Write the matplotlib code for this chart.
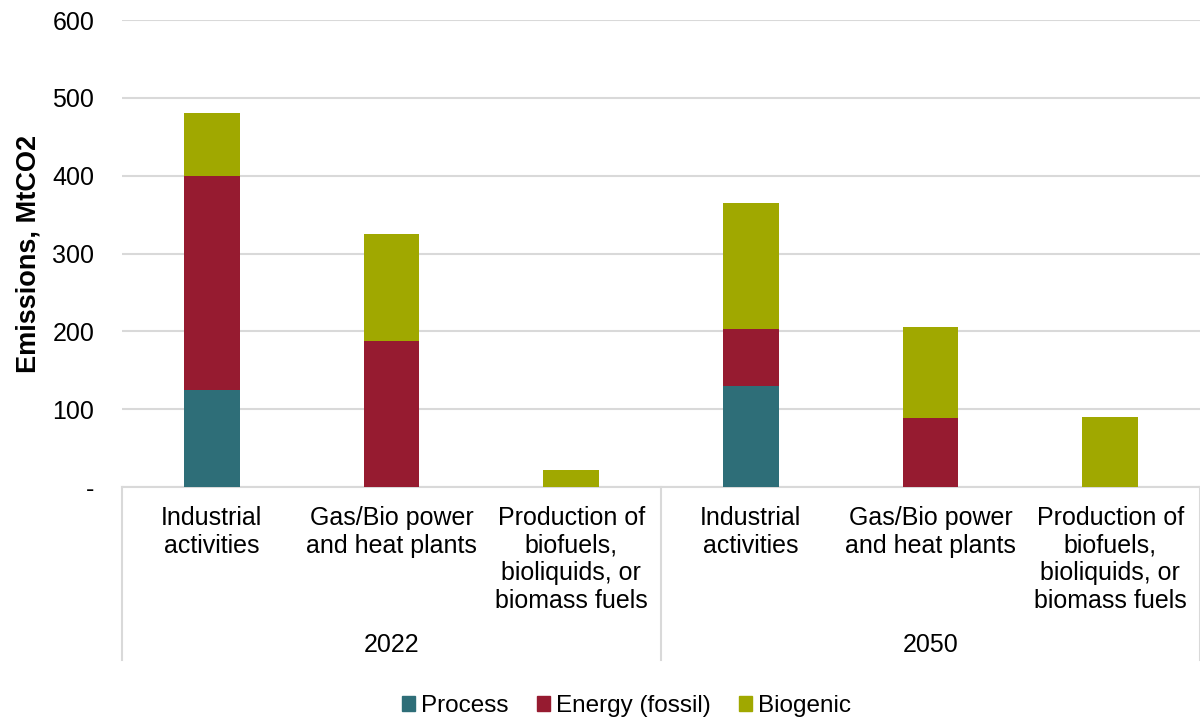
import matplotlib.pyplot as plt
from matplotlib.patches import Patch
import matplotlib.transforms as mtransforms
import numpy as np

plt.rcParams['font.family'] = ['Liberation Sans', 'DejaVu Sans']

# emissions by sector, MtCO2
years = ["2022", "2050"]
sectors = ["Industrial\nactivities",
           "Gas/Bio power\nand heat plants",
           "Production of\nbiofuels,\nbioliquids, or\nbiomass fuels"]
process = [124, 0, 0, 130, 0, 0]
energy = [276, 188, 0, 73, 89, 0]
biogenic = [80, 137, 22, 162, 117, 90]

series = [("Process", process, "#2E6E78"),
          ("Energy (fossil)", energy, "#961B30"),
          ("Biogenic", biogenic, "#A0A800")]
grid_col = "#D9D9D9"

fig = plt.figure(figsize=(12, 7.2), dpi=100)
ax = fig.add_axes([0.1017, 0.3236, 0.8983, 0.6486])

x = np.arange(len(sectors) * len(years))
bottom = np.zeros(len(x))
for name, vals, col in series:
    ax.bar(x, vals, width=0.31, bottom=bottom, color=col, label=name, zorder=3)
    bottom += np.array(vals)

ax.set_xlim(-0.5, len(x) - 0.5)
ax.set_ylim(0, 600)
ax.set_yticks(range(0, 700, 100))
ax.set_yticklabels(["-"] + [str(v) for v in range(100, 700, 100)], fontsize=18)
ax.yaxis.grid(True, color=grid_col, linewidth=1.5, zorder=0)
ax.tick_params(axis='y', length=0, pad=20)

ax.set_xticks(x)
ax.set_xticklabels(sectors * len(years), fontsize=18, linespacing=1.2)
ax.tick_params(axis='x', length=0, pad=13.5)

for side in ["top", "right", "left"]:
    ax.spines[side].set_visible(False)
ax.spines["bottom"].set_color(grid_col)
ax.spines["bottom"].set_linewidth(1.5)

ax.set_ylabel("Emissions, MtCO2", fontsize=19.5, fontweight="bold")
ax.yaxis.set_label_coords(-0.075, 0.5)

# group separators and year labels under the category axis
trans = mtransforms.blended_transform_factory(ax.transData, ax.transAxes)
for sep in [-0.5, 2.5, 5.5]:
    ax.plot([sep, sep], [0, -0.37], transform=trans, color=grid_col,
            linewidth=1.5, clip_on=False)
for i, yr in enumerate(years):
    ax.text(1 + 3 * i, -0.338, yr, transform=trans, ha="center", va="center",
            fontsize=18)

handles = [Patch(color=col, label=name) for name, vals, col in series]
fig.legend(handles=handles, loc="lower center", bbox_to_anchor=(0.522, -0.026),
           ncol=3, frameon=False, fontsize=17.5, handlelength=0.55,
           handleheight=0.55, handletextpad=0.25, columnspacing=1.15)

fig.savefig("out.png", dpi=100)
